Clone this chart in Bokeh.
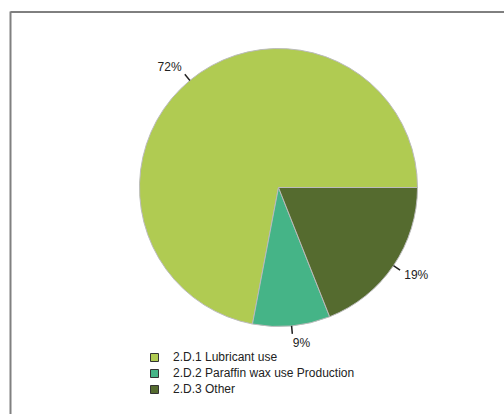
import math
from bokeh.plotting import figure
from bokeh.models import Range1d, Legend, LegendItem
from bokeh.core.properties import value
from bokeh.embed import file_html
from bokeh.resources import INLINE

categories = ["2.D.1 Lubricant use", "2.D.2 Paraffin wax use Production", "2.D.3 Other"]
shares = [72, 9, 19]
pct_labels = ["72%", "9%", "19%"]
colors = ["#B0CB52", "#45B487", "#556B2F"]

W, H = 504, 414
cx, cy = 278, 187  # pie centre in pixels (from top-left)
R = 139

p = figure(width=W, height=H, output_backend="svg", toolbar_location=None,
           x_range=Range1d(-cx, W - cx), y_range=Range1d(-(H - cy), cy),
           min_border=0, min_border_left=0, min_border_right=0,
           min_border_top=0, min_border_bottom=0)
p.axis.visible = False
p.grid.visible = False
p.outline_line_color = None
p.background_fill_color = "white"
p.border_fill_color = "white"

# chart frame border (top black, left grey), starting at the top-left corner
bx, by = -cx + 10, cy - 11.5
p.segment(x0=[bx], y0=[by], x1=[W - cx + 2], y1=[by], line_color="#000000", line_width=1)
p.segment(x0=[bx], y0=[by + 0.5], x1=[bx], y1=[-(H - cy) - 2], line_color="#808080", line_width=2)

total = float(sum(shares))
start = 0.0
for cat, s, lab, col in zip(categories, shares, pct_labels, colors):
    a0 = start
    a1 = start + s / total * 2 * math.pi
    start = a1
    p.wedge(x=0, y=0, radius=R, start_angle=a0, end_angle=a1, direction="anticlock",
            fill_color=col, line_color="#BBBBBB", line_width=1)
    mid = (a0 + a1) / 2
    c, sn = math.cos(mid), math.sin(mid)
    p.segment(x0=(R) * c, y0=(R) * sn, x1=(R + 8) * c, y1=(R + 8) * sn,
              line_color="#222222", line_width=1.5)
    lx = (R + 10) * c + c * 3
    ly = (R + 10) * sn + sn * 7
    p.text(x=[lx], y=[ly], text=[lab], text_align="left" if c >= -0.2 else "right",
           text_baseline="middle", text_font=value("Liberation Sans"),
           text_font_size="12px", text_color="#222222")

# legend
items = []
for cat, col in zip(categories, colors):
    r = p.block(x=[float("nan")], y=[float("nan")], width=1, height=1,
                fill_color=col, line_color="#333333", line_width=1)
    items.append(LegendItem(label=cat, renderers=[r]))

legend = Legend(items=items, location=(149, 18), orientation="vertical",
                glyph_width=10, glyph_height=10, label_height=15, spacing=1,
                label_standoff=14, padding=0, margin=0,
                border_line_color=None, background_fill_alpha=0,
                label_text_font="Liberation Sans", label_text_font_size="12px",
                label_text_color="#222222")
p.add_layout(legend)

open("out.html", "w").write(file_html(p, INLINE))
